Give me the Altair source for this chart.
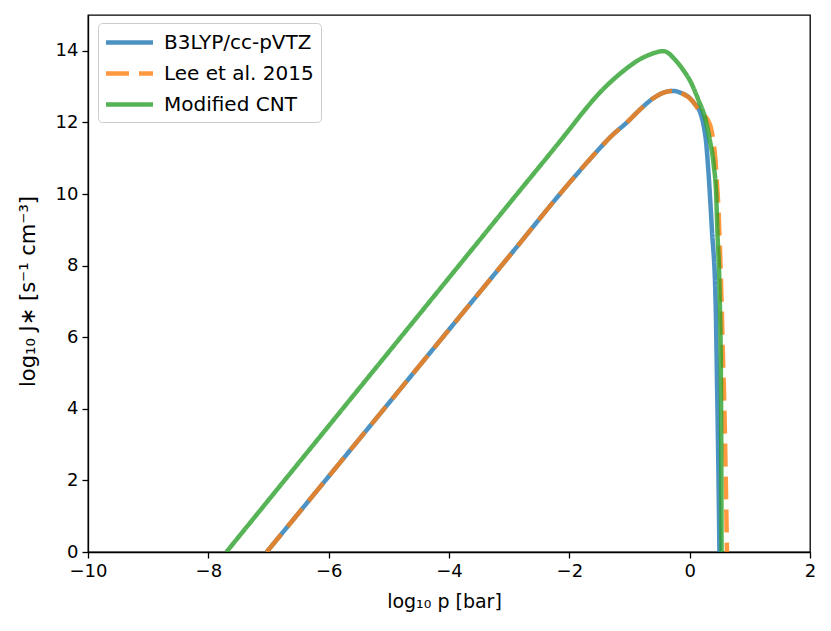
import altair as alt
import pandas as pd

series_names = ["B3LYP/cc-pVTZ", "Lee et al. 2015", "Modified CNT"]
colors = ["#1f77b4", "#ff7f0e", "#2ca02c"]
dashes = [[1, 0], [23, 10], [1, 0]]

b3lyp_x = [-7.03, -6.0, -5.0, -4.0, -3.0, -2.0, -1.6, -1.3, -1.03, -0.8, -0.6, -0.4, -0.27, -0.17, 0.06, 0.19, 0.25, 0.27, 0.30, 0.37, 0.43, 0.455, 0.48, 0.495]
b3lyp_y = [0.0, 2.11, 4.16, 6.21, 8.26, 10.31, 11.08, 11.62, 12.02, 12.4, 12.68, 12.85, 12.88, 12.84, 12.57, 12.2, 11.74, 11.5, 10.9, 9.0, 7.07, 4.7, 2.0, 0.0]

lee_x = [-7.03, -6.0, -5.0, -4.0, -3.0, -2.0, -1.6, -1.3, -1.03, -0.8, -0.6, -0.4, -0.27, -0.17, 0.06, 0.19, 0.29, 0.36, 0.43, 0.49, 0.53, 0.555, 0.57, 0.60, 0.62]
lee_y = [0.0, 2.11, 4.16, 6.21, 8.26, 10.31, 11.08, 11.62, 12.02, 12.4, 12.68, 12.85, 12.88, 12.84, 12.57, 12.25, 12.1, 11.8, 10.9, 9.1, 7.0, 5.3, 4.5, 2.0, 0.0]

cnt_x = [-7.70, -6.0, -5.0, -4.0, -3.0, -2.0, -1.78, -1.5, -1.2, -1.0, -0.81, -0.62, -0.5, -0.43, -0.35, -0.27, -0.11, 0.02, 0.14, 0.26, 0.33, 0.40, 0.44, 0.46, 0.50, 0.52, 0.53]
cnt_y = [0.0, 3.52, 5.59, 7.66, 9.73, 11.8, 12.27, 12.82, 13.3, 13.57, 13.78, 13.92, 13.98, 13.99, 13.93, 13.8, 13.47, 13.12, 12.65, 12.1, 11.55, 10.8, 10.0, 9.0, 7.07, 4.8, 0.0]

frames = []
for name, xs, ys in [(series_names[0], b3lyp_x, b3lyp_y),
                     (series_names[1], lee_x, lee_y),
                     (series_names[2], cnt_x, cnt_y)]:
    frames.append(pd.DataFrame({"series": name, "x": xs, "y": ys, "order": range(len(xs))}))
df = pd.concat(frames, ignore_index=True)

color_scale = alt.Scale(domain=series_names, range=colors)
dash_scale = alt.Scale(domain=series_names, range=dashes)

x_enc = alt.X("x:Q", scale=alt.Scale(domain=[-10, 2], nice=False),
              axis=alt.Axis(values=list(range(-10, 3, 2)), title="log₁₀ p [bar]",
                            titleFontSize=19, titlePadding=12, titleX=356))
y_enc = alt.Y("y:Q", scale=alt.Scale(domain=[0, 15], nice=False),
              axis=alt.Axis(values=list(range(0, 15, 2)), title="log₁₀ J∗ [s⁻¹ cm⁻³]",
                            titleFontSize=21, titlePadding=17, titleY=276))

legend = alt.Legend(title=None, orient="none", legendX=10, legendY=8)

layers = []
for name in series_names:
    layers.append(
        alt.Chart(df).transform_filter(alt.datum.series == name)
        .mark_line(strokeWidth=4.5, opacity=0.8, clip=True, interpolate="monotone")
        .encode(
            x=x_enc, y=y_enc, order="order:Q",
            color=alt.Color("series:N", scale=color_scale, legend=legend),
            strokeDash=alt.StrokeDash("series:N", scale=dash_scale, legend=legend),
        )
    )

chart = alt.layer(*layers).properties(
    width=722, height=537,
    autosize=alt.AutoSizeParams(type="none"),
    padding={"left": 80, "top": 7, "right": 13, "bottom": 71},
).configure(
    font="DejaVu Sans",
).configure_view(
    stroke="black", strokeWidth=1.3,
).configure_axis(
    grid=False, domainColor="black", domainWidth=1.3, tickColor="black", tickWidth=1.3,
    tickSize=6, labelFontSize=18, titleFontSize=18, labelColor="black", titleColor="black",
    titleFontWeight="normal", labelPadding=4, titlePadding=8, labelFont="DejaVu Sans",
    titleFont="DejaVu Sans", labelFlush=False,
).configure_legend(
    labelFontSize=20, labelFont="DejaVu Sans", labelColor="black",
    symbolType="M-2.35,0H2.35", symbolSize=400, symbolStrokeWidth=4.5, symbolOpacity=0.8,
    symbolFillColor="transparent", symbolOffset=12,
    fillColor="white", strokeColor="#cccccc", cornerRadius=4, padding=7,
    rowPadding=8, labelOffset=22,
)

chart.save("out.html", embed_options={"renderer": "svg", "actions": False})
